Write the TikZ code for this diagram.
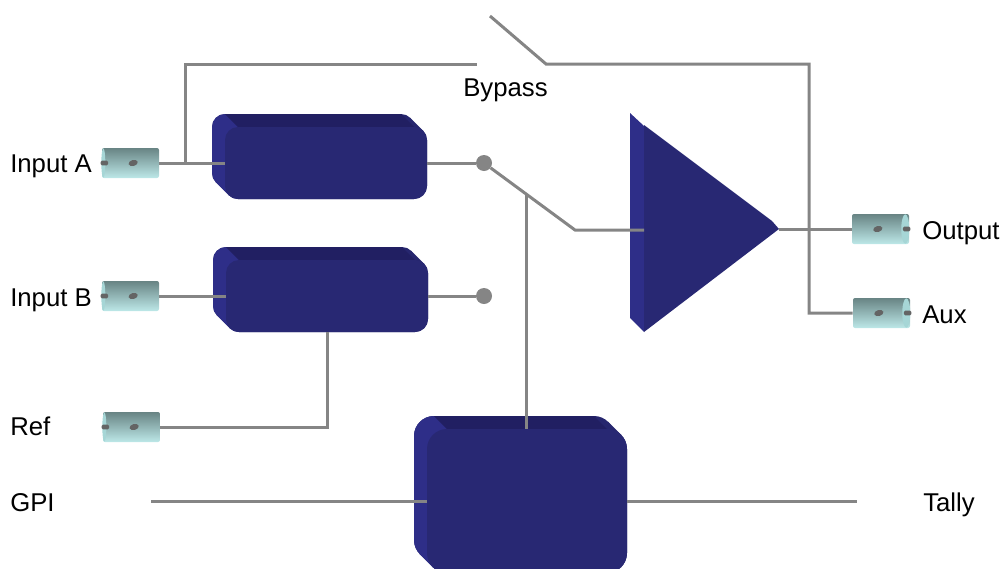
\documentclass[tikz,border=0pt]{standalone}
\usepackage{fontspec}
\setmainfont{Liberation Sans}
\usetikzlibrary{positioning}
\usetikzlibrary{shapes.geometric}
\definecolor{facecol}{HTML}{282873}
\definecolor{sidecol}{HTML}{2E2E88}
\definecolor{topcol}{HTML}{211F62}
\definecolor{cornercol}{HTML}{26266E}
\definecolor{wirecol}{HTML}{858585}
\definecolor{captop}{HTML}{688484}
\definecolor{capcol}{HTML}{BDE8E8}
\definecolor{capend}{HTML}{A6D6D6}
\tikzset{
wire/.style={draw=wirecol,line width=2.25pt},
lbl/.style={inner sep=0pt,font=\fontsize{19.3}{22}\selectfont},
cyl/.style={top color=captop,bottom color=capcol,rounded corners=1.5pt,inner sep=0pt,minimum width=42.75pt,minimum height=22.5pt},
capleft/.style={ellipse,fill=capend,inner sep=0pt,minimum width=3pt,minimum height=22pt},
capright/.style={ellipse,fill=capend,inner sep=0pt,minimum width=6pt,minimum height=22pt},
stub/.style={fill=wirecol!75!black,inner sep=0pt,minimum width=5.5pt,minimum height=3.6pt,rounded corners=1pt},
pin/.style={ellipse,fill=wirecol!75!black,inner sep=0pt,minimum width=7pt,minimum height=4.5pt,rotate=15},
term/.style={circle,fill=wirecol,inner sep=0pt,minimum size=12pt}
}
% outline of the extruded block: colour, left, top, right, bottom, radius
\newcommand{\hullfill}[6]{
\fill[#1,rounded corners=#6*0.75pt] (#2-13,#3-13) rectangle (#4-13,#5-13);
\fill[#1,rounded corners=#6*0.75pt] (#2,#3) rectangle (#4,#5);
\fill[#1] (#4-13-0.293*#6,#3-13+0.293*#6) -- (#4-0.293*#6,#3+0.293*#6) -- (#2+0.293*#6,#5-0.293*#6) -- (#2-13+0.293*#6,#5-13-0.293*#6) -- cycle;
}
% extruded block: name, left, top, right, bottom, radius
\newcommand{\blockbox}[6]{
\hullfill{cornercol}{#2}{#3}{#4}{#5}{#6}
\begin{scope}
\clip (#2-14,#3-14) -- (#2-13+#6,#3-14) -- (#2+1+#6,#3) -- (#2+#6,#5+1) -- (#2-14,#5+1) -- cycle;
\hullfill{sidecol}{#2}{#3}{#4}{#5}{#6}
\end{scope}
\fill[topcol] (#2-13+#6,#3-13) -- (#4-13-#6,#3-13) -- (#4-#6,#3) -- (#2+#6,#3) -- cycle;
\node[fill=facecol,inner sep=0pt,minimum width=(#4-#2)*0.75pt,minimum height=(#5-#3)*0.75pt,rounded corners=#6*0.75pt] (#1) at ({(#2+#4)/2},{(#3+#5)/2}) {};
}
\begin{document}
\begin{tikzpicture}[x=0.75pt,y=-0.75pt]
\useasboundingbox (0,0) rectangle (1003,568);
\clip (0,0) rectangle (1003,568);

\blockbox{procA}{225}{127}{427}{199}{13}
\blockbox{procB}{226}{260}{428}{332}{13}
\blockbox{ctrl}{427}{429}{627}{573}{20}

% amplifier
\coordinate (ampin) at (644,230);
\coordinate (ampout) at (779,229);
\fill[sidecol] (630,113) -- (644,126) -- (644,332) -- (630,318) -- cycle;
\fill[facecol] (644,125) -- (772,221) -- (ampout) -- (644,332) -- cycle;

% connectors
\node[cyl] (inA) at (130.5,163) {};
\node[cyl] (inB) at (130.5,296) {};
\node[cyl] (inRef) at (131.5,427) {};
\node[cyl] (outM) at (880.5,229) {};
\node[cyl] (outAux) at (881.5,313) {};
\foreach \c in {inA,inB,inRef}{
\node[capleft] at ([xshift=1.2pt]\c.west) {};
\node[stub] at ([xshift=2pt]\c.west) {};
\node[pin] at ([xshift=2pt]\c.center) {};
}
\foreach \c in {outM,outAux}{
\node[capright] at ([xshift=-3pt]\c.east) {};
\node[stub] at ([xshift=-2pt]\c.east) {};
\node[pin] at ([xshift=-2pt]\c.center) {};
}

% switch terminals
\node[term] (swA) at (484,163) {};
\node[term] (swB) at (484,296) {};
\coordinate (arm) at (575,230);
\coordinate (tap) at (526,195);
\coordinate (tee) at (185,163);
\coordinate (byL) at (477,64);
\coordinate (byR) at (546,64);
\coordinate (byT) at (490,16);
\coordinate (auxTurn) at (809,64);
\coordinate (gpiEnd) at (151,501);
\coordinate (tallyEnd) at (857,501);

% wires
\draw[wire] (inA.east) -- (procA.west);
\draw[wire] (inB.east) -- (procB.west);
\draw[wire] (tee) |- (byL);
\draw[wire] (byT) -- (byR) -- (auxTurn) |- (outAux.west);
\draw[wire] (procA.east) -- (swA);
\draw[wire] (procB.east) -- (swB);
\draw[wire] (swA) -- (arm) -- (ampin);
\draw[wire] (ampout) -- (outM.west);
\draw[wire] (tap) -- (tap |- ctrl.north);
\draw[wire] (procB.south) |- (inRef.east);
\draw[wire] (gpiEnd) -- (ctrl.west);
\draw[wire] (ctrl.east) -- (tallyEnd);

% labels
\node[lbl,anchor=base west] (lA) at (10,172) {Input A};
\node[lbl,anchor=base west] (lB) at (10,306) {Input B};
\node[lbl,anchor=base west] (lRef) at (10,435) {Ref};
\node[lbl,anchor=base west] (lGpi) at (10,511) {GPI};
\node[lbl,anchor=base west] (lBy) at (463,96) {Bypass};
\node[lbl,anchor=base west] (lOut) at (922,239) {Output};
\node[lbl,anchor=base west] (lAux) at (922,323) {Aux};
\node[lbl,anchor=base west] (lTally) at (923,511) {Tally};
\end{tikzpicture}
\end{document}
